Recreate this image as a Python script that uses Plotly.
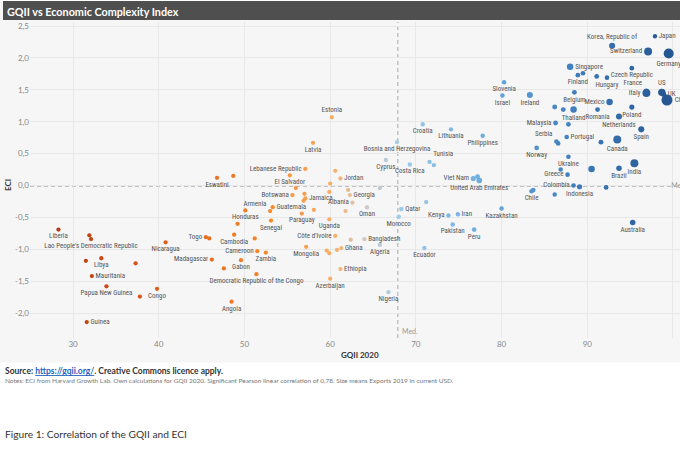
import plotly.graph_objects as go

# ---------------- data ----------------
country = [
    "Liberia", "", "Lao People's Democratic Republic", "", "Libya", "Mauritania", "", "Papua New Guinea", "",
    "Congo", "Guinea", "Nicaragua", "Togo", "", "Madagascar", "", "Eswatini", "", "Honduras", "", "Cambodia",
    "", "Cameroon", "Zambia", "Gabon", "Democratic Republic of the Congo", "Angola", "Guatemala", "Armenia",
    "Senegal", "Lebanese Republic", "Latvia", "Estonia", "El Salvador", "", "Jordan", "", "", "", "", "Georgia",
    "Botswana", "", "Jamaica", "", "Albania", "Oman", "", "Paraguay", "", "Uganda", "Côte d'Ivoire", "",
    "Bangladesh", "Ghana", "", "", "", "Mongolia", "Algeria", "Ethiopia", "Azerbaijan", "Nigeria", "Qatar",
    "Morocco", "Cyprus", "Costa Rica", "Bosnia and Herzegovina", "", "Croatia", "Lithuania", "Philippines",
    "Tunisia", "", "Viet Nam", "", "United Arab Emirates", "", "Kenya", "Iran", "Kazakhstan", "Pakistan", "Peru",
    "Ecuador", "Chile", "", "Norway", "Malaysia", "", "Serbia", "", "Japan", "Korea, Republic of", "Switzerland",
    "Germany", "Singapore", "Finland", "", "", "Hungary", "Czech Republic", "France", "Italy", "US", "UK",
    "China", "Ireland", "Slovenia", "Israel", "Belgium", "Mexico", "", "Thailand", "Romania", "Poland",
    "Netherlands", "", "Spain", "Portugal", "", "Canada", "Ukraine", "", "Greece", "", "Brazil", "India",
    "Colombia", "Indonesia", "", "", "Australia",
]
gqii = [
    28.3, 31.9, 32.1, 31.5, 33.3, 32.2, 37.3, 33.9, 37.8,
    39.8, 31.6, 40.8, 45.5, 45.9, 46.2, 47.6, 46.8, 48.7, 50.1, 49.2, 48.8,
    51.2, 51.5, 52.5, 49.6, 51.4, 48.5, 53.3, 53.0,
    53.1, 57.1, 58.0, 60.2, 55.3, 60.6, 61.2, 60.0, 56.0, 59.9, 62.1, 62.3,
    55.6, 57.0, 57.1, 56.9, 62.6, 64.3, 58.1, 56.7, 61.8, 59.9, 60.6, 62.4,
    64.0, 61.3, 60.8, 59.6, 59.9, 57.2, 65.8, 61.2, 60.0, 66.8, 68.3,
    68.0, 66.5, 69.3, 67.8, 65.8, 70.8, 74.1, 77.8,
    71.6, 72.1, 76.7, 77.2, 77.4, 71.2, 73.8, 74.9, 80.0, 74.3, 76.8,
    71.0, 83.5, 83.7, 84.1, 86.3, 86.2, 86.4, 86.6, 97.9, 92.9, 97.1,
    99.5, 88.0, 88.9, 89.5, 91.1, 92.3, 95.2, 96.9, 96.9, 98.7, 98.9,
    99.3, 83.3, 80.3, 80.1, 88.5, 92.6, 87.2, 88.4, 91.2, 95.2,
    93.7, 87.8, 96.3, 87.6, 91.6, 93.5, 87.8, 86.9, 87.7, 90.5, 93.7, 95.5,
    88.4, 89.1, 92.2, 86.2, 95.3,
]
eci = [
    -0.69, -0.78, -0.84, -1.18, -1.14, -1.42, -1.22, -1.58, -1.74,
    -1.62, -2.14, -0.89, -0.81, -0.83, -1.16, -1.30, 0.12, 0.15, -0.39, -0.60, -0.77,
    -0.83, -1.03, -1.05, -1.17, -1.39, -1.82, -0.34, -0.40,
    -0.55, 0.26, 0.67, 1.07, 0.16, 0.23, 0.11, 0.03, -0.04, -0.10, -0.07, -0.15,
    -0.15, -0.13, -0.20, -0.24, -0.27, -0.34, -0.38, -0.44, -0.40, -0.53, -0.79, -0.85,
    -0.84, -0.98, -1.01, -1.02, -1.06, -0.96, -0.93, -1.31, -1.46, -1.67, -0.37,
    -0.49, 0.40, 0.33, 0.68, -0.04, 0.96, 0.88, 0.78,
    0.37, 0.32, 0.11, 0.14, 0.08, -0.26, -0.47, -0.45, -0.36, -0.61, -0.69,
    -0.98, -0.09, -0.07, 0.59, 0.98, 1.23, 0.69, 0.66, 2.34, 2.19, 2.10,
    2.07, 1.86, 1.73, 1.76, 1.71, 1.69, 1.84, 1.48, 1.45, 1.46, 1.43,
    1.34, 1.42, 1.62, 1.41, 1.46, 1.31, 1.19, 1.19, 1.19, 1.23,
    1.08, 0.96, 0.88, 0.76, 0.68, 0.72, 0.45, 0.25, 0.17, 0.26, 0.27, 0.35,
    0.00, -0.02, -0.03, -0.14, -0.58,
]
# exports 2019 (bn current USD)
exports = [
    3, 3, 3, 3, 3, 3, 3, 3, 3,
    3, 3, 3, 3, 3, 3, 3, 3, 3, 3, 3, 3,
    3, 3, 3, 3, 3, 3, 3, 3,
    3, 3, 3, 3, 3, 3, 3, 3, 3, 3, 3, 3,
    3, 3, 3, 3, 3, 5, 3, 3, 3, 3, 3, 3,
    5, 3, 3, 3, 3, 3, 5, 3, 3, 5, 20,
    15, 3, 5, 3, 3, 5, 5, 10,
    5, 5, 60, 30, 120, 3, 5, 5, 10, 10, 20,
    5, 20, 20, 20, 40, 40, 20, 20, 5, 200, 700,
    1600, 280, 20, 20, 30, 20, 20, 60, 700, 540, 60,
    2200, 180, 10, 15, 30, 280, 40, 280, 30, 60,
    180, 25, 180, 20, 40, 700, 15, 10, 20, 280, 100, 700,
    20, 60, 25, 10, 100,
]
label_pos = [
    "bottom center", "bottom center", "bottom center", "bottom center", "bottom center", "middle right", "bottom center", "bottom center", "bottom center",
    "bottom center", "middle right", "bottom center", "middle left", "bottom center", "middle left", "bottom center", "bottom center", "bottom center", "bottom center", "bottom center", "bottom center",
    "bottom center", "middle left", "bottom center", "bottom center", "bottom center", "bottom center", "middle right", "top left",
    "bottom center", "middle left", "bottom center", "top center", "bottom center", "bottom center", "middle right", "bottom center", "bottom center", "bottom center", "bottom center", "middle right",
    "middle left", "bottom center", "middle right", "bottom center", "middle left", "bottom center", "bottom center", "bottom center", "bottom center", "bottom center", "middle left", "bottom center",
    "middle right", "middle right", "bottom center", "bottom center", "bottom center", "bottom center", "bottom center", "middle right", "bottom center", "bottom center", "middle right",
    "bottom center", "bottom center", "bottom center", "bottom center", "bottom center", "bottom center", "bottom center", "bottom center",
    "top right", "bottom center", "middle left", "bottom center", "bottom center", "bottom center", "middle left", "middle right", "bottom center", "bottom center", "bottom center",
    "bottom center", "bottom center", "bottom center", "bottom center", "middle left", "bottom center", "top left", "bottom center", "middle right", "top center", "middle left",
    "bottom center", "middle right", "bottom center", "bottom center", "bottom center", "bottom center", "bottom center", "top left", "middle left", "top center", "middle right",
    "middle right", "bottom center", "bottom center", "bottom center", "bottom center", "middle left", "bottom center", "bottom center", "bottom center", "bottom center",
    "bottom center", "bottom center", "bottom center", "middle right", "bottom center", "bottom center", "bottom center", "bottom center", "middle left", "bottom center", "bottom center", "bottom center",
    "middle left", "bottom center", "bottom center", "bottom center", "bottom center",
]

gqii_median = 67.9
eci_median = -0.01

x_ticks = [30, 40, 50, 60, 70, 80, 90, 100]
y_ticks = [-2.0, -1.5, -1.0, -0.5, 0.0, 0.5, 1.0, 1.5, 2.0, 2.5]
y_ticktext = ["-2,0", "-1,5", "-1,0", "-0,5", "0,0", "0,5", "1,0", "1,5", "2,0", "2,5"]

# ---------------- figure ----------------
W, H = 680, 450
ML, MR, MT, MB = 30, 0, 22, 112
PW, PH = W - ML - MR, H - MT - MB
PANEL_BG = "#f6f6f6"


def px(xp):
    return (xp - ML) / PW


def py(yp):
    return (H - MB - yp) / PH


marker_size = [4 + 0.15 * e ** 0.5 for e in exports]

colorscale = [
    [0.0, "#b63a10"], [0.2, "#e4621b"], [0.35, "#f58a2c"], [0.45, "#f9b06a"],
    [0.5, "#cfcac2"], [0.56, "#9fcbea"], [0.7, "#6aaadd"], [0.85, "#3d7bbb"], [1.0, "#24558f"],
]

label_font = dict(family="Liberation Sans Narrow, Roboto Condensed, Arial Narrow, Roboto, sans-serif",
                  size=7, color="#555555")
ui_font = "Lato, Roboto, Open Sans, sans-serif"

fig = go.Figure()

# white page area below the chart panel, and the dark title bar
fig.add_shape(type="rect", xref="paper", yref="paper", x0=px(-5), x1=px(W + 5), y0=py(H + 5), y1=py(362.5),
              fillcolor="white", line=dict(width=0), layer="above")
fig.add_shape(type="rect", xref="paper", yref="paper", x0=px(-5), x1=px(W + 5), y0=py(1), y1=py(-5),
              fillcolor="white", line=dict(width=0), layer="above")
fig.add_shape(type="rect", xref="paper", yref="paper", x0=px(3), x1=px(W), y0=py(20), y1=py(1),
              fillcolor="#4f4f4f", line=dict(width=0), layer="above")

# median reference lines
fig.add_shape(type="line", xref="x", yref="paper", x0=gqii_median, x1=gqii_median, y0=0, y1=1,
              line=dict(color="#a8a8a8", width=1, dash="4px,3px"), layer="below")
fig.add_shape(type="line", xref="paper", yref="y", x0=0, x1=1, y0=eci_median, y1=eci_median,
              line=dict(color="#a8a8a8", width=1, dash="4px,3px"), layer="below")

fig.add_trace(go.Scatter(
    x=gqii, y=eci, mode="markers+text",
    text=country, textposition=label_pos, textfont=label_font,
    marker=dict(size=marker_size, color=gqii, colorscale=colorscale, cmin=28, cmax=100,
                line=dict(width=0), opacity=1),
    cliponaxis=True, hoverinfo="text", showlegend=False,
))

# "Med." label on the right edge (cut by the plot border like in the reference)
fig.add_trace(go.Scatter(
    x=[99.8], y=[eci_median], mode="text", text=["Med."], textposition="middle right",
    textfont=dict(family=ui_font, size=7, color="#999999"), cliponaxis=True,
    hoverinfo="skip", showlegend=False,
))

fig.update_layout(
    width=W, height=H,
    margin=dict(l=ML, r=MR, t=MT, b=MB, pad=0),
    paper_bgcolor=PANEL_BG, plot_bgcolor=PANEL_BG,
    font=dict(family=ui_font, size=8, color="#888888"),
    xaxis=dict(range=[24.98, 100.82], tickvals=x_ticks, ticktext=[str(v) for v in x_ticks],
               showgrid=True, gridcolor="#e8e8e8", gridwidth=1, zeroline=False, showline=False,
               ticks="", tickfont=dict(size=8, color="#888888")),
    yaxis=dict(range=[-2.39, 2.563], tickvals=y_ticks, ticktext=y_ticktext,
               showgrid=True, gridcolor="#e8e8e8", gridwidth=1, zeroline=False, showline=False,
               ticks="", tickfont=dict(size=8, color="#888888")),
)

ann = [
    dict(text="<b>GQII vs Economic Complexity Index</b>", x=px(5), y=py(11), xanchor="left", yanchor="middle",
         font=dict(family=ui_font, size=10.8, color="white")),
    dict(text="<b>ECI</b>", x=px(8), y=py(185), xanchor="center", yanchor="middle", textangle=-90,
         font=dict(family=ui_font, size=8, color="#333333")),
    dict(text="<b>GQII 2020</b>", x=px(360), y=py(355), xanchor="center", yanchor="middle",
         font=dict(family=ui_font, size=8, color="#333333")),
    dict(text="Med.", x=px(400), y=py(331), xanchor="left", yanchor="middle",
         font=dict(family=ui_font, size=7, color="#999999")),
    dict(text="<b>Source: <a href='https://gqii.org/' style='color:#1f5fbf'><u>https://gqii.org/</u></a>. "
              "Creative Commons licence apply.</b>",
         x=px(3), y=py(371.5), xanchor="left", yanchor="middle",
         font=dict(family=ui_font, size=8.5, color="#333333")),
    dict(text="Notes: ECI from Harvard Growth Lab. Own calculations for GQII 2020. Significant Pearson linear "
              "correlation of 0,78. Size means Exports 2019 in current USD.",
         x=px(3), y=py(380.5), xanchor="left", yanchor="middle",
         font=dict(family=ui_font, size=6.5, color="#777777")),
    dict(text="Figure 1: Correlation of the GQII and ECI", x=px(3), y=py(434), xanchor="left", yanchor="middle",
         font=dict(family=ui_font, size=10.2, color="#333333")),
]
for a in ann:
    a.update(xref="paper", yref="paper", showarrow=False)
fig.update_layout(annotations=ann)

fig.write_html("out.html", config={"displayModeBar": False},
               post_script="document.body.style.margin='0px';")
